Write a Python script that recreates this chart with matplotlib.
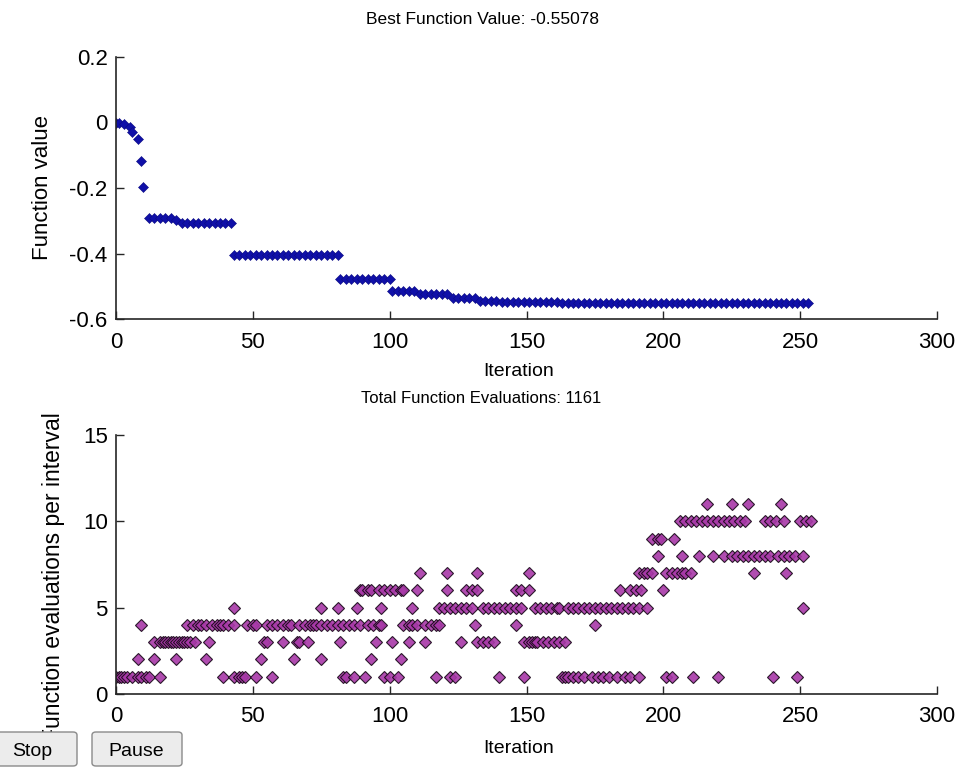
import numpy as np
import matplotlib
matplotlib.use("Agg")
import matplotlib.pyplot as plt
from matplotlib.patches import FancyBboxPatch

plt.rcParams['font.family'] = ['Liberation Sans', 'DejaVu Sans']
plt.rcParams['axes.unicode_minus'] = False

# best function value: first few single points, then plateaus (start, end, value)
early_iter = [0, 1, 3, 5, 6, 8, 9, 10]
early_val = [0.0, 0.0, -0.006, -0.014, -0.03, -0.049, -0.117, -0.196]
plat_start = [12, 22, 24, 43, 82, 101, 111, 123, 133, 141, 163]
plat_end = [20, 22, 42, 81, 100, 109, 121, 131, 139, 161, 253]
plat_val = [-0.291, -0.298, -0.306, -0.406, -0.478, -0.514, -0.525, -0.537,
            -0.545, -0.548, -0.5508]

# function evaluations per interval, iterations where each count shows up
evals = {
    1: [0, 1, 2, 3, 4, 6, 8, 9, 11, 12, 16, 39, 43, 45, 46, 47, 51, 57, 83, 84,
        87, 91, 98, 100, 103, 117, 122, 124, 140, 149, 163, 164, 165, 167, 169,
        171, 174, 176, 178, 180, 183, 186, 188, 191, 201, 203, 211, 220, 240, 249],
    2: [8, 14, 22, 33, 53, 65, 75, 93, 104],
    3: [14, 16, 17, 18, 19, 20, 21, 22, 23, 24, 25, 26, 27, 29, 34, 54, 55, 61,
        66, 67, 70, 82, 95, 101, 107, 113, 126, 132, 134, 136, 138, 149, 151,
        152, 153, 154, 156, 158, 160, 162, 164],
    4: [9, 26, 28, 30, 31, 33, 35, 37, 38, 39, 41, 43, 48, 50, 51, 55, 57, 59,
        61, 63, 64, 67, 69, 71, 72, 73, 75, 77, 79, 81, 83, 85, 87, 89, 92, 94,
        96, 97, 105, 107, 108, 110, 113, 115, 117, 118, 131, 146, 175],
    5: [43, 75, 81, 88, 97, 108, 118, 120, 122, 124, 126, 128, 130, 134, 136,
        138, 140, 142, 144, 146, 148, 153, 155, 157, 159, 161, 162, 165, 167,
        169, 171, 173, 175, 177, 179, 181, 183, 185, 187, 189, 191, 194, 251],
    6: [89, 90, 92, 93, 96, 98, 100, 102, 104, 105, 110, 121, 128, 130, 132,
        146, 148, 151, 184, 188, 190, 192, 200],
    7: [111, 121, 132, 151, 191, 193, 194, 196, 201, 203, 205, 207, 208, 210,
        233, 245],
    8: [198, 207, 213, 218, 222, 225, 227, 229, 231, 233, 235, 237, 239, 242,
        244, 246, 248, 251],
    9: [196, 198, 199, 204],
    10: [206, 208, 210, 212, 214, 216, 218, 220, 222, 224, 226, 228, 230, 237,
         239, 241, 244, 250, 252, 254],
    11: [216, 225, 231, 243],
}

best_x = list(early_iter)
best_y = list(early_val)
for s, e, v in zip(plat_start, plat_end, plat_val):
    xs = np.arange(s, e + 1, 2)
    best_x += list(xs)
    best_y += [v] * len(xs)

ev_x, ev_y = [], []
for k, its in evals.items():
    ev_x += its
    ev_y += [k] * len(its)

fig = plt.figure(figsize=(9.64, 7.72), dpi=100)
W, H = 964, 772
ax1 = fig.add_axes([116 / W, 1 - 319 / H, 821 / W, 262 / H])
ax2 = fig.add_axes([116 / W, 1 - 694 / H, 821 / W, 259 / H])

ax1.plot(best_x, best_y, 'D', color='#1010a8', markersize=4.7, markeredgewidth=0.4,
         markeredgecolor='#0a0a80', linestyle='none')
ax1.set_xlim(0, 300)
ax1.set_ylim(-0.6, 0.2)
ax1.set_yticks([-0.6, -0.4, -0.2, 0, 0.2])
ax1.set_yticklabels(['-0.6', '-0.4', '-0.2', '0', '0.2'])
ax1.set_xticks(range(0, 301, 50))
ax1.set_xlabel('Iteration', fontsize=14)
ax1.set_ylabel('Function value', fontsize=16)
ax1.xaxis.set_label_coords(0.49, (319 - 363) / 262)
ax1.yaxis.set_label_coords((53 - 116) / 821, 0.5)
fig.text(483 / W, 1 - 19 / H, 'Best Function Value: -0.55078', fontsize=12.5,
         ha='center', va='center')

ax2.plot(ev_x, ev_y, 'D', color='#a838a8', markersize=6.3, markeredgewidth=0.8,
         markeredgecolor='#1a0a1a', linestyle='none', alpha=0.9)
ax2.set_xlim(0, 300)
ax2.set_ylim(0, 15)
ax2.set_yticks([0, 5, 10, 15])
ax2.set_xticks(range(0, 301, 50))
ax2.set_xlabel('Iteration', fontsize=14)
ax2.set_ylabel('Function evaluations per interval', fontsize=16.5)
ax2.xaxis.set_label_coords(0.49, (694 - 740) / 259)
ax2.yaxis.set_label_coords((65 - 116) / 821, 0.45)
fig.text(481 / W, 1 - 399 / H, 'Total Function Evaluations: 1161', fontsize=12,
         ha='center', va='center')

for ax in (ax1, ax2):
    ax.spines['top'].set_visible(False)
    ax.spines['right'].set_visible(False)
    for sp in ('left', 'bottom'):
        ax.spines[sp].set_color('#262626')
        ax.spines[sp].set_linewidth(1.2)
    ax.tick_params(direction='in', length=6, width=1, labelsize=16, color='#262626',
                   pad=6)
    ax.tick_params(axis='x', pad=9)
    ax.set_facecolor('white')

# Stop / Pause buttons of the figure window
for x0, x1, tx, label in [(-13, 77, 32, 'Stop'), (92, 182, 136, 'Pause')]:
    box = FancyBboxPatch((x0 / W, 1 - 766 / H), (x1 - x0) / W, 34 / H,
                         boxstyle='round,pad=0,rounding_size=0.004',
                         transform=fig.transFigure, facecolor='#ececec',
                         edgecolor='#8a8a8a', linewidth=1, zorder=5)
    fig.patches.append(box)
    fig.text(tx / W, 1 - 751 / H, label, fontsize=14, ha='center', va='center',
             zorder=6)

fig.savefig('out.png', dpi=100, facecolor='white')
